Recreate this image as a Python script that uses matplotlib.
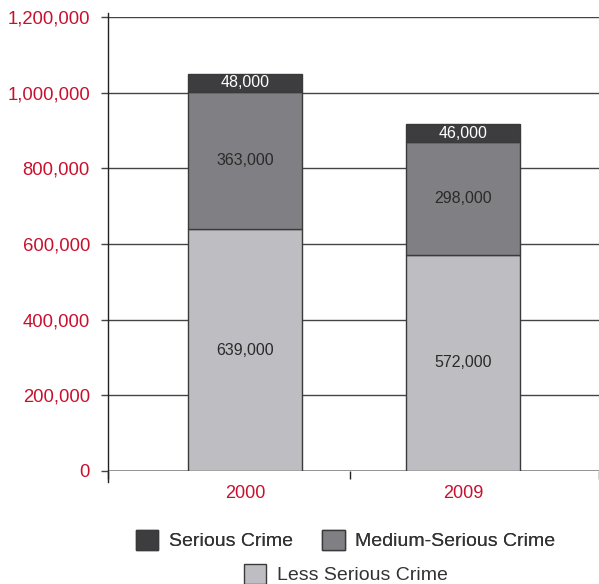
import matplotlib.pyplot as plt
from matplotlib.patches import Patch

plt.rcParams['font.family'] = ['Liberation Sans', 'DejaVu Sans']

years = ['2000', '2009']
less_serious = [639000, 572000]
medium_serious = [363000, 298000]
serious = [48000, 46000]

c_serious = '#3d3d3f'
c_medium = '#808084'
c_less = '#bebec2'
red = '#c8102e'
edge = '#3a3a3a'

fig = plt.figure(figsize=(5.99, 5.84), dpi=100)
ax = fig.add_axes([0.1803, 0.1935, 0.8197, 0.7774])

x = [0, 1]
w = 0.523
bottom2 = [a + b for a, b in zip(less_serious, medium_serious)]
ax.bar(x, less_serious, w, color=c_less, edgecolor=edge, linewidth=1, zorder=3)
ax.bar(x, medium_serious, w, bottom=less_serious, color=c_medium, edgecolor=edge, linewidth=1, zorder=3)
ax.bar(x, serious, w, bottom=bottom2, color=c_serious, edgecolor=edge, linewidth=1, zorder=3)

for i in x:
    ax.text(i, less_serious[i] / 2, f'{less_serious[i]:,}', ha='center', va='center',
            fontsize=11.5, color='#2a2a2a', zorder=4)
    ax.text(i, less_serious[i] + medium_serious[i] / 2, f'{medium_serious[i]:,}',
            ha='center', va='center', fontsize=11.5, color='#2a2a2a', zorder=4)
    ax.text(i, bottom2[i] + serious[i] / 2, f'{serious[i]:,}', ha='center', va='center',
            fontsize=11.5, color='white', zorder=4)

ax.set_ylim(0, 1200000)
ax.set_xlim(-0.628, 1.624)
ax.set_yticks(range(0, 1200001, 200000))
ax.set_yticklabels([f'{v:,}' for v in range(0, 1200001, 200000)], color=red, fontsize=13.3)
ax.set_xticks([-0.628, 0.48, 1.624])
ax.set_xticklabels([])
ax.set_xticks(x, minor=True)
ax.set_xticklabels(years, minor=True, color=red, fontsize=13)
ax.tick_params(axis='x', which='minor', length=0, pad=10)
ax.tick_params(axis='x', which='major', length=6, width=1, color='#222222')
ax.tick_params(axis='y', length=5, width=1, color='#444444', pad=8)

for v in range(200000, 1200001, 200000):
    ax.axhline(v, color='#444444', lw=1, zorder=1)
ax.axhline(0, color='#8a8a8a', lw=2, zorder=2)

for s in ['top', 'right', 'bottom']:
    ax.spines[s].set_visible(False)
ax.spines['left'].set_color('#222222')
ax.spines['left'].set_linewidth(1)
ax.spines['left'].set_bounds(-30000, 1210000)

h_s = Patch(facecolor=c_serious, edgecolor=edge, label='Serious Crime')
h_m = Patch(facecolor=c_medium, edgecolor=edge, label='Medium-Serious Crime')
h_l = Patch(facecolor=c_less, edgecolor=edge, label='Less Serious Crime')
leg1 = fig.legend(handles=[h_s, h_m], loc='center', bbox_to_anchor=(0.577, 0.075), ncol=2,
                  frameon=False, fontsize=14, handlelength=1.15, handleheight=1.2,
                  handletextpad=0.55, columnspacing=1.5, labelcolor='#333333')
fig.add_artist(leg1)
fig.legend(handles=[h_l], loc='center', bbox_to_anchor=(0.577, 0.017), frameon=False,
           fontsize=14, handlelength=1.15, handleheight=1.2, handletextpad=0.55,
           labelcolor='#333333')

fig.savefig('out.png', dpi=100)
